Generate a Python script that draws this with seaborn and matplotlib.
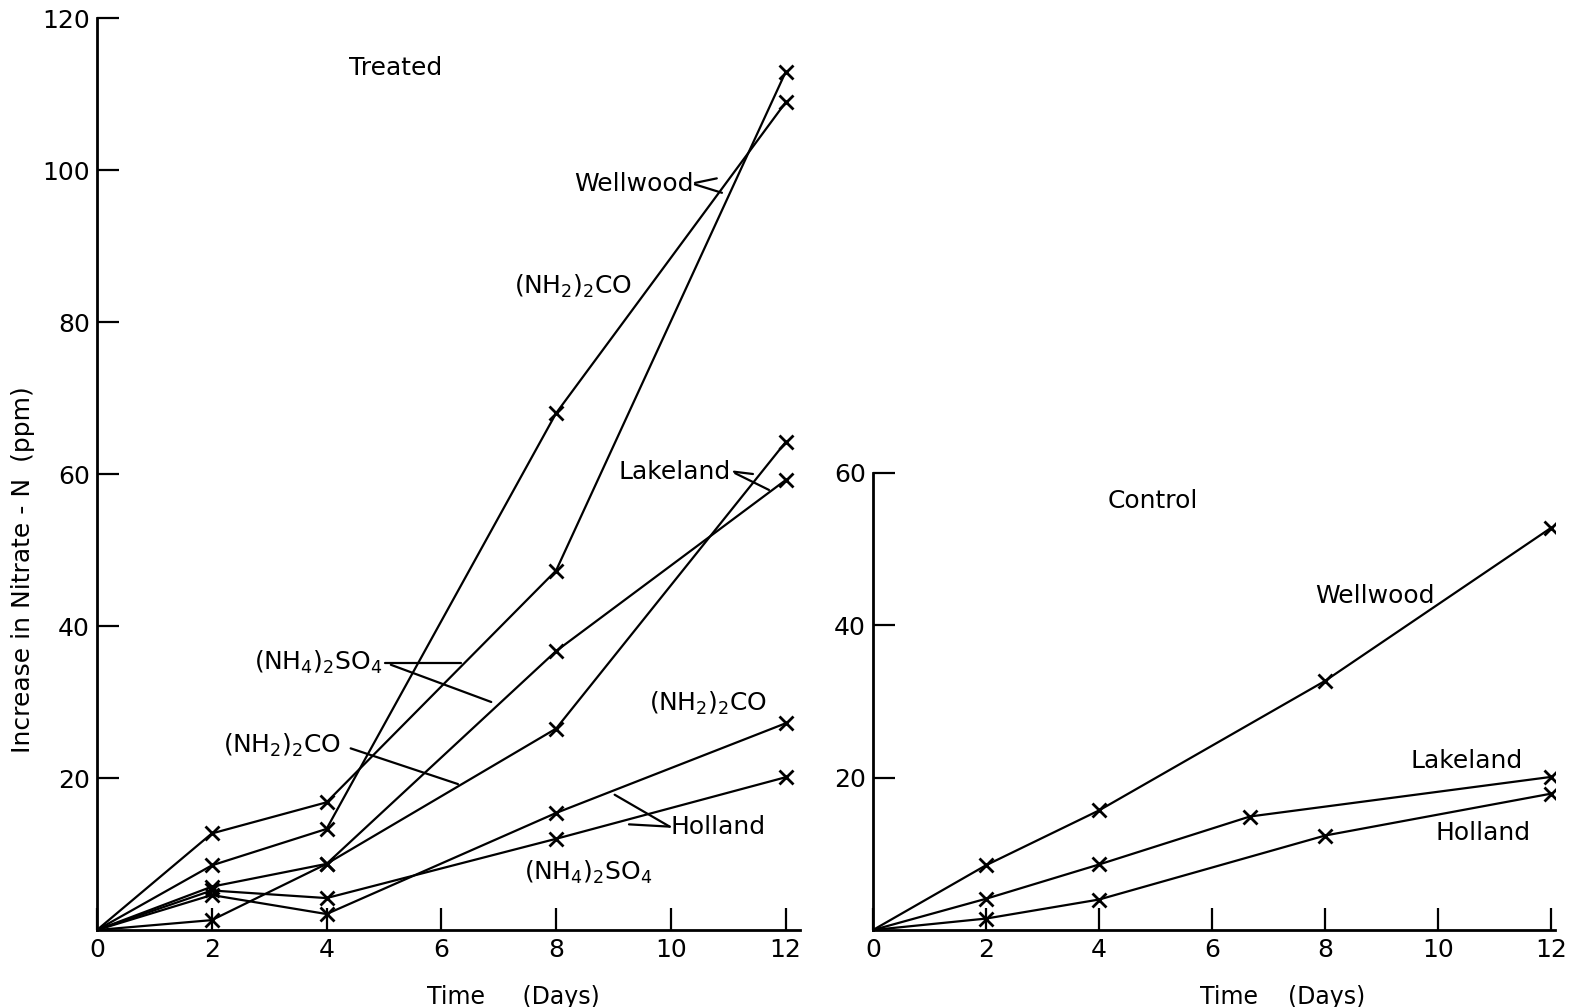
import numpy as np
import pandas as pd
import matplotlib
matplotlib.use("Agg")
import matplotlib.pyplot as plt
import seaborn as sns

# ---------------- data ----------------
days = [0, 2, 4, 8, 12]

# Treated soils
wellwood_nh4 = [0, 12.7, 16.8, 47.3, 112.9]
wellwood_urea = [0, 8.5, 13.3, 68.0, 108.9]
lakeland_nh4 = [0, 5.7, 8.7, 36.7, 59.2]
lakeland_urea = [0, 1.3, 8.7, 26.5, 64.2]
holland_nh4 = [0, 5.2, 4.2, 12.0, 20.1]
holland_urea = [0, 4.6, 2.1, 15.4, 27.2]

# Control soils
ctrl_wellwood_days = [0, 2, 4, 8, 12]
ctrl_wellwood = [0, 8.5, 15.7, 32.7, 52.8]
ctrl_lakeland_days = [0, 2, 4, 6.67, 12]
ctrl_lakeland = [0, 4.1, 8.6, 14.9, 20.1]
ctrl_holland_days = [0, 2, 4, 8, 12]
ctrl_holland = [0, 1.5, 4.0, 12.4, 17.9]

x_ticks = [0, 2, 4, 6, 8, 10, 12]
treated_yticks = [20, 40, 60, 80, 100, 120]
control_yticks = [20, 40, 60]

# ---------------- style ----------------
sns.set_theme(style="ticks")
plt.rcParams["font.family"] = ["DejaVu Sans"]
plt.rcParams["mathtext.default"] = "regular"
plt.rcParams["text.color"] = "black"
plt.rcParams["axes.labelcolor"] = "black"

fig = plt.figure(figsize=(15.76, 10.07), dpi=100)
fig.patch.set_facecolor("white")

axL = fig.add_axes([97 / 1576, 77 / 1007, 703 / 1576, 912 / 1007])
axR = fig.add_axes([873 / 1576, 77 / 1007, 682 / 1576, 457 / 1007])

line_kw = dict(color="black", linewidth=1.6, marker="x", markersize=10,
               markeredgewidth=2.0, markeredgecolor="black",
               markerfacecolor="black", markevery=slice(1, None), sort=False,
               estimator=None, legend=False)

treated = [wellwood_nh4, wellwood_urea, lakeland_nh4, lakeland_urea,
           holland_nh4, holland_urea]
for ys in treated:
    df = pd.DataFrame({"day": days, "val": ys})
    sns.lineplot(data=df, x="day", y="val", ax=axL, **line_kw)

for xs, ys in [(ctrl_wellwood_days, ctrl_wellwood),
               (ctrl_lakeland_days, ctrl_lakeland),
               (ctrl_holland_days, ctrl_holland)]:
    df = pd.DataFrame({"day": xs, "val": ys})
    sns.lineplot(data=df, x="day", y="val", ax=axR, **line_kw)

for ax, ymax, yt in [(axL, 120, treated_yticks), (axR, 60, control_yticks)]:
    ax.set_facecolor("white")
    ax.set_ylim(0, ymax)
    ax.set_xticks(x_ticks)
    ax.set_xticklabels([str(t) for t in x_ticks])
    ax.set_yticks(yt)
    ax.set_yticklabels([str(t) for t in yt])
    for s in ["top", "right"]:
        ax.spines[s].set_visible(False)
    for s in ["left", "bottom"]:
        ax.spines[s].set_linewidth(2.0)
        ax.spines[s].set_color("black")
    ax.tick_params(axis="both", direction="in", length=16, width=1.6,
                   colors="black", labelsize=18)
    ax.tick_params(axis="x", pad=6)
    ax.tick_params(axis="y", pad=5)
    ax.grid(False)

axL.set_xlim(0, 12.25)
axR.set_xlim(0, 12.07)

axL.set_ylabel("Increase in Nitrate - N  (ppm)", fontsize=18, color="black")
axL.yaxis.set_label_coords(-0.088, 0.395)
axR.set_ylabel("")
axL.set_xlabel("Time     (Days)", fontsize=17, color="black")
axL.xaxis.set_label_coords(0.592, -0.060)
axR.set_xlabel("Time    (Days)", fontsize=17, color="black")
axR.xaxis.set_label_coords(0.601, -0.120)

fs = 18
nh4 = r"(NH$_4$)$_2$SO$_4$"
urea = r"(NH$_2$)$_2$CO"
tk = dict(fontsize=fs, ha="center", va="center", color="black")
lk = dict(color="black", lw=1.6)

# ---- Treated panel labels ----
axL.text(5.21, 113.4, "Treated", **tk)
axL.text(10.40, 98.2, "Wellwood", fontsize=fs, ha="right", va="center",
         color="black")
axL.plot([10.42, 10.80], [98.3, 98.9], **lk)
axL.plot([10.42, 10.89], [98.1, 97.0], **lk)
axL.text(8.30, 84.7, urea, **tk)

axL.text(10.07, 60.3, "Lakeland", **tk)
axL.plot([11.10, 11.43], [60.3, 60.0], **lk)
axL.plot([11.12, 11.71], [60.1, 57.9], **lk)

axL.text(3.86, 35.2, nh4, **tk)
axL.plot([5.02, 6.35], [35.1, 35.1], **lk)
axL.plot([5.12, 6.87], [34.9, 30.0], **lk)

axL.text(3.23, 24.3, urea, **tk)
axL.plot([4.42, 6.29], [23.9, 19.2], **lk)

axL.text(10.65, 29.8, urea, **tk)
axL.text(10.82, 13.6, "Holland", **tk)
axL.plot([9.98, 9.02], [13.6, 17.8], **lk)
axL.plot([9.98, 9.27], [13.6, 13.9], **lk)
axL.text(8.55, 7.6, nh4, **tk)

# ---- Control panel labels ----
axR.text(4.96, 56.3, "Control", **tk)
axR.text(8.88, 43.9, "Wellwood", **tk)
axR.text(10.5, 22.2, "Lakeland", **tk)
axR.text(10.8, 12.8, "Holland", **tk)

fig.savefig("out.png", dpi=100, facecolor="white")
